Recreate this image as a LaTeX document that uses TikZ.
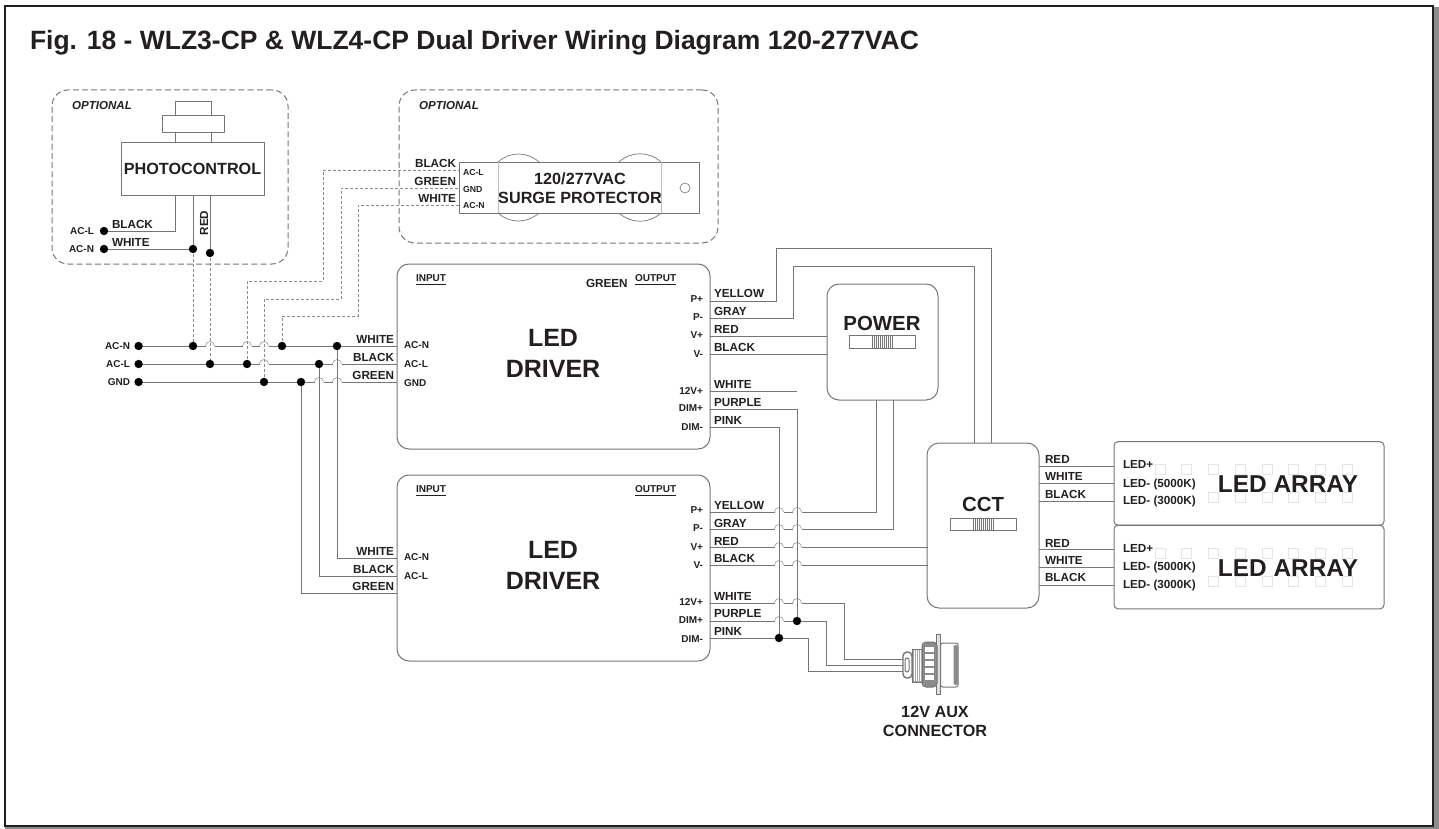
\documentclass[tikz,border=0pt]{standalone}
\usepackage{fontspec}
\setmainfont{Liberation Sans}
\definecolor{ink}{HTML}{231F20}
\definecolor{wirecol}{HTML}{757575}
\tikzset{
    txt/.style={inner sep=0pt, outer sep=0pt, text=ink, text depth=0pt},
    tiny/.style={txt, font=\fontsize{4.35}{5}\selectfont\bfseries},
    term/.style={txt, font=\fontsize{5}{6}\selectfont\bfseries},
    wlbl/.style={txt, font=\fontsize{5.85}{7}\selectfont\bfseries},
    optlbl/.style={txt, font=\fontsize{5.8}{7}\selectfont\bfseries\itshape},
    biglbl/.style={txt, align=center, font=\fontsize{12.5}{15.5}\selectfont\bfseries},
    arrlbl/.style={txt, font=\fontsize{12.2}{15}\selectfont\bfseries},
    midlbl/.style={txt, align=center, font=\fontsize{8.1}{9.5}\selectfont\bfseries},
    swlbl/.style={txt, font=\fontsize{10.2}{12}\selectfont\bfseries},
    box/.style={draw=wirecol, line width=0.5pt, outer sep=0pt, inner sep=0pt},
    drvbox/.style={box, rounded corners=6pt, minimum width=156.5pt, minimum height=92.5pt},
    arrbox/.style={box, rounded corners=2pt, minimum width=135pt, minimum height=41.8pt},
    optbox/.style={box, dash pattern=on 3pt off 1.6pt, rounded corners=8pt},
    slider/.style={box, line width=0.35pt, minimum width=33pt, minimum height=6.2pt},
    sq/.style={draw=black!10, line width=0.3pt},
    tick/.style={wirecol, line width=0.25pt},
    wire/.style={wirecol, line width=0.5pt},
    dwire/.style={wirecol!85, line width=0.4pt, dash pattern=on 1.5pt off 1pt},
    hopline/.style={black!40, line width=0.3pt},
    dot/.style={shape=circle, fill=black, inner sep=0pt, minimum size=4.2pt},
}

\begin{document}
\begin{tikzpicture}[x=0.5pt, y=-0.5pt]
    \useasboundingbox (0,0) rectangle (1439,829);

    %% frame
    \fill[black!45] (1433,7) rectangle (1439,829);
    \fill[black!45] (5,826) rectangle (1439,829);
    \draw[ink, line width=1pt] (5,6) rectangle (1433,826);
    \node[txt, anchor=base west, font=\fontsize{13.24}{15}\selectfont\bfseries] (title) at (30,50)
        {Fig. 18 - WLZ3-CP \& WLZ4-CP Dual Driver Wiring Diagram 120-277VAC};

    %%   (lable)  (x, y)
    \coordinate (pcBlk)  at (175,195);
    \coordinate (pcWht)  at (193,195);
    \coordinate (pcRed)  at (210,195);
    \coordinate (pL)     at (104,231);
    \coordinate (pN)     at (104,249);
    \coordinate (pJ)     at (193,249);
    \coordinate (pR)     at (210,253);

    \coordinate (tN)     at (138.6,346);
    \coordinate (tL)     at (138.6,364);
    \coordinate (tG)     at (138.6,382);
    \coordinate (bN1)    at (193,346);
    \coordinate (bN2)    at (282,346);
    \coordinate (bN3)    at (337,346);
    \coordinate (bL1)    at (210,364);
    \coordinate (bL2)    at (247,364);
    \coordinate (bL3)    at (319,364);
    \coordinate (bG1)    at (264,382);
    \coordinate (bG2)    at (301,382);

    \coordinate (sgA)    at (323,281);
    \coordinate (sgB)    at (341,299);
    \coordinate (sgC)    at (358,316);
    \coordinate (sgL)    at (459,170);
    \coordinate (sgG)    at (459,188);
    \coordinate (sgN)    at (459,205);

    \coordinate (dAn)    at (397,346);
    \coordinate (dAl)    at (397,364);
    \coordinate (dAg)    at (397,382);
    \coordinate (dBn)    at (397,558);
    \coordinate (dBl)    at (397,576);
    \coordinate (dBg)    at (397,593);

    \foreach \n/\ya/\yb in {yel/301/512, gry/318/529, red/336/547, blk/354/565, wht/391/603, pur/409/621, pnk/427/638} {
        \coordinate (oA\n) at (710,\ya);
        \coordinate (oB\n) at (710,\yb);
    }
    \coordinate (yelT)   at (776,248);
    \coordinate (gryT)   at (793,266);
    \coordinate (cctY)   at (991,443);
    \coordinate (cctG)   at (974,443);
    \coordinate (pwrR)   at (827,336);
    \coordinate (pwrB)   at (827,354);
    \coordinate (pwrY)   at (876,400);
    \coordinate (pwrG)   at (893,400);
    \coordinate (cctR)   at (928,547);
    \coordinate (cctB)   at (928,565);
    \coordinate (whtEnd) at (797,391);
    \coordinate (jPur)   at (797,621);
    \coordinate (jPnk)   at (779,638);
    \coordinate (auxW1)  at (844,659);
    \coordinate (auxP1)  at (826,665);
    \coordinate (auxK1)  at (808,671);
    \coordinate (auxW)   at (903,659);
    \coordinate (auxP)   at (903,665);
    \coordinate (auxK)   at (903,671);

    %% optional parts
    \node[optbox, minimum width=118pt, minimum height=87pt] (optA) at (170,177) {};
    \node[optbox, minimum width=159.5pt, minimum height=76.5pt] (optB) at (558.5,166.5) {};
    \node[optlbl, anchor=west] (optAt) at (72,105) {OPTIONAL};
    \node[optlbl, anchor=west] (optBt) at (419,105) {OPTIONAL};

    \node[box, minimum width=18pt, minimum height=7pt] (photoCap) at (193,109) {};
    \node[box, minimum width=18pt, minimum height=5pt] (photoNeck) at (193,137) {};
    \node[box, minimum width=31pt, minimum height=8pt] (photoRing) at (193,124) {};
    \node[box, minimum width=71.5pt, minimum height=26.5pt, font=\fontsize{8.1}{10}\selectfont\bfseries, text=ink] (photo) at (192.5,168.5) {PHOTOCONTROL};

    %% surge ears
    \draw[wire, line width=0.35pt] (498,162) to[bend left=42] (539,162);
    \draw[wire, line width=0.35pt] (619,162) to[bend left=42] (661,162);
    \draw[wire, line width=0.35pt] (498,213) to[bend right=42] (539,213);
    \draw[wire, line width=0.35pt] (619,213) to[bend right=42] (661,213);
    \node[box, fill=white, minimum width=120pt, minimum height=25.5pt] (surge) at (579,187.5) {};
    \draw[black!25, line width=0.3pt] (498,162) -- (498,213);
    \draw[black!25, line width=0.3pt] (661,162) -- (661,213);
    \node[box, shape=circle, minimum size=5pt, line width=0.3pt] (hole) at (685,188) {};
    \node[midlbl] (surgeT) at (580,188.5) {120/277VAC\\SURGE PROTECTOR};
    \foreach \y/\t in {172/AC-L, 189/GND, 205/AC-N}
        \node[tiny, anchor=west] (sg\t) at (463,\y) {\t};
    \foreach \y/\t in {163/BLACK, 181/GREEN, 198/WHITE}
        \node[wlbl, anchor=east] (sgw\t) at (456,\y) {\t};

    %% main boxes
    \node[drvbox] (drvA) at (553.5,356.5) {};
    \node[drvbox, minimum height=93pt] (drvB) at (553.5,568) {};
    \node[box, rounded corners=6pt, minimum width=55.5pt, minimum height=58pt] (power) at (882.5,342) {};
    \node[box, rounded corners=6pt, minimum width=56pt, minimum height=82.5pt] (cct) at (983,525.5) {};
    \node[arrbox] (arrA) at (1249,483.5) {};
    \node[arrbox] (arrB) at (1249,567) {};

    %% faint cells of the arrays
    \foreach \o in {0,84} {
        \foreach \x in {1155,1181.7,1208.4,1235.1,1261.8,1288.5,1315.2,1341.9}
            \draw[sq] (\x,464+\o) rectangle +(10,10);
        \foreach \x in {1208.4,1235.1,1261.8,1288.5,1315.2,1341.9}
            \draw[sq] (\x,492+\o) rectangle +(10,10);
    }

    \node[biglbl] (drvAt) at (553,353.5) {LED\\DRIVER};
    \node[biglbl] (drvBt) at (553,565) {LED\\DRIVER};
    \node[swlbl] (powerT) at (882,323) {POWER};
    \node[swlbl] (cctT) at (983,504) {CCT};
    \node[slider] (pwrSw) at (882,342) {};
    \node[slider] (cctSw) at (983,524.5) {};
    \foreach \i in {0,2,...,20} {
        \draw[tick] (872+\i,336) -- (872+\i,348);
        \draw[tick] (973+\i,518) -- (973+\i,531);
    }
    \node[arrlbl] (arrAt) at (1288,484) {LED ARRAY};
    \node[arrlbl] (arrBt) at (1288,568) {LED ARRAY};

    %% wires along the bus and the drivers
    \draw[wire] (pcBlk) |- (pL);
    \draw[wire] (pcWht) -- (pJ);
    \draw[wire] (pN) -- (pJ);
    \draw[wire] (pcRed) -- (pR);
    \draw[wire] (tN) -- (dAn);
    \draw[wire] (tL) -- (dAl);
    \draw[wire] (tG) -- (dAg);
    \draw[wire] (oAyel) -| (yelT) -| (cctY);
    \draw[wire] (oAgry) -| (gryT) -| (cctG);
    \draw[wire] (oAred) -- (pwrR);
    \draw[wire] (oAblk) -- (pwrB);
    \draw[wire] (oAwht) -- (whtEnd);
    \draw[wire] (oByel) -| (pwrY);
    \draw[wire] (oBgry) -| (pwrG);
    \draw[wire] (oBred) -- (cctR);
    \draw[wire] (oBblk) -- (cctB);
    \draw[wire] (oBwht) -| (auxW1) -- (auxW);
    \draw[wire] (oBpur) -| (auxP1) -- (auxP);
    \draw[wire] (oBpnk) -| (auxK1) -- (auxK);

    %% hops where a wire crosses without a joint
    \foreach \x/\y in {210/346, 247/346, 264/346, 264/364, 337/364, 319/382, 337/382,
                       779/512, 797/512, 779/529, 797/529, 779/547, 797/547, 779/565, 797/565,
                       779/603, 797/603, 779/621} {
        \fill[white] (\x-4.5,\y-1.5) rectangle (\x+4.5,\y+1.5);
        \draw[hopline] (\x-4.5,\y) arc[start angle=180, end angle=0, radius=2.25pt];
    }

    %% wires running across the hops
    \draw[dwire] (pJ) -- (bN1);
    \draw[dwire] (pR) -- (bL1);
    \draw[dwire] (bL2) |- (sgA) |- (sgL);
    \draw[dwire] (bG1) |- (sgB) |- (sgG);
    \draw[dwire] (bN2) |- (sgC) |- (sgN);
    \draw[wire] (bN3) |- (dBn);
    \draw[wire] (bL3) |- (dBl);
    \draw[wire] (bG2) |- (dBg);
    \draw[wire] (oApnk) -| (jPnk);
    \draw[wire] (oApur) -| (jPur);

    %% wires from the CCT box to the arrays
    \foreach \n/\y in {Ar/466, Aw/483, Ab/501, Br/549, Bw/567, Bb/585} {
        \coordinate (cct\n) at (1039,\y);
        \coordinate (arr\n) at (1114,\y);
        \draw[wire] (cct\n) -- (arr\n);
    }

    %% joints
    \foreach \c in {pL, pN, pJ, pR, tN, tL, tG, bN1, bN2, bN3, bL1, bL2, bL3, bG1, bG2, jPur, jPnk}
        \node[dot] (d\c) at (\c) {};

    %% aux connector
    \node[box, fill=black!12, minimum width=2pt, minimum height=30pt] (auxPlate) at (938.7,664) {};
    \draw[box, fill=white, rounded corners=1pt] (940.7,643) rectangle (958,687);
    \fill[black!45, rounded corners=1pt] (953.5,645) rectangle (958,685);
    \draw[box, fill=black!45, rounded corners=2pt] (922,642) rectangle (937,687);
    \foreach \y in {647,654,661,668,675}
        \fill[white] (925,\y) rectangle (934,\y+5);
    \draw[box, fill=black!35] (912,649) rectangle (922,682);
    \foreach \x in {914,916,918,920}
        \draw[white, line width=0.3pt] (\x,650) -- (\x,681);
    \draw[box, line width=0.7pt, fill=white, rounded corners=2pt] (903,652) rectangle (912,678);
    \draw[box, fill=white, rounded corners=1pt] (905,658) rectangle (909,672);
    \node[midlbl] (auxT) at (935,721) {12V AUX\\CONNECTOR};

    %% text at the photocontrol and the bus
    \node[wlbl, anchor=west] (pBlack) at (112,224) {BLACK};
    \node[wlbl, anchor=west] (pWhite) at (112,242) {WHITE};
    \node[wlbl, anchor=center, rotate=90] (pRed) at (204,223) {RED};
    \node[term, anchor=east] (pAcl) at (94,231) {AC-L};
    \node[term, anchor=east] (pAcn) at (94,249) {AC-N};
    \node[term, anchor=east] (tAcn) at (130,346) {AC-N};
    \node[term, anchor=east] (tAcl) at (130,364) {AC-L};
    \node[term, anchor=east] (tGnd) at (130,382) {GND};

    %% driver text
    \foreach \y/\t in {339/WHITE, 357/BLACK, 375/GREEN}
        \node[wlbl, anchor=east] (iA\t) at (394,\y) {\t};
    \foreach \y/\t in {551/WHITE, 569/BLACK, 586/GREEN}
        \node[wlbl, anchor=east] (iB\t) at (394,\y) {\t};
    \foreach \y/\t in {345/AC-N, 364/AC-L, 383/GND}
        \node[term, anchor=west] (tA\t) at (404,\y) {\t};
    \foreach \y/\t in {557/AC-N, 576/AC-L}
        \node[term, anchor=west] (tB\t) at (404,\y) {\t};
    \foreach \d/\y in {A/278, B/489} {
        \node[term, anchor=west] (in\d) at (416,\y) {\underline{INPUT}};
        \node[term, anchor=west] (out\d) at (635,\y) {\underline{OUTPUT}};
    }
    \node[wlbl, anchor=west] (drvGrn) at (586,283) {GREEN};
    \foreach \y/\t in {293/YELLOW, 311/GRAY, 329/RED, 347/BLACK, 384/WHITE, 402/PURPLE, 420/PINK}
        \node[wlbl, anchor=west] (wA\t) at (714,\y) {\t};
    \foreach \y/\t in {505/YELLOW, 523/GRAY, 541/RED, 558/BLACK, 596/WHITE, 613/PURPLE, 631/PINK}
        \node[wlbl, anchor=west] (wB\t) at (714,\y) {\t};
    \foreach \y/\t in {299/P+, 317/P-, 335/V+, 354/V-, 391/12V+, 408/DIM+, 427/DIM-}
        \node[term, anchor=east] (pA\t) at (703,\y) {\t};
    \foreach \y/\t in {510/P+, 528/P-, 547/V+, 565/V-, 602/12V+, 620/DIM+, 639/DIM-}
        \node[term, anchor=east] (pB\t) at (703,\y) {\t};

    %% array text
    \foreach \y/\t in {459/RED, 476/WHITE, 494/BLACK}
        \node[wlbl, anchor=west] (cA\t) at (1045,\y) {\t};
    \foreach \y/\t in {543/RED, 560/WHITE, 577/BLACK}
        \node[wlbl, anchor=west] (cB\t) at (1045,\y) {\t};
    \foreach \y/\n/\t in {464/p/LED+, 483/w/LED- (5000K), 500/k/LED- (3000K)}
        \node[wlbl, anchor=west] (aA\n) at (1123,\y) {\t};
    \foreach \y/\n/\t in {548/p/LED+, 566.5/w/LED- (5000K), 584/k/LED- (3000K)}
        \node[wlbl, anchor=west] (aB\n) at (1123,\y) {\t};

\end{tikzpicture}
\end{document}
